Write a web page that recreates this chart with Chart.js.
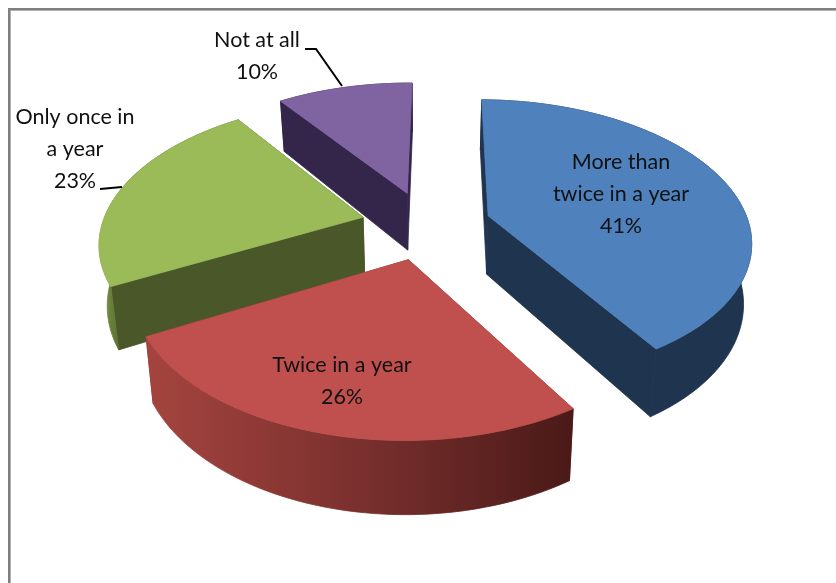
<!DOCTYPE html>
<html>
<head>
<meta charset="utf-8">
<title>Pie</title>
<script src="https://cdn.jsdelivr.net/npm/chart.js@4"></script>
<style>
  html, body { margin: 0; padding: 0; background: #fff; }
  #wrap { position: relative; width: 836px; height: 583px; overflow: hidden; }
  #frame {
    position: absolute; left: 8px; top: 8px; width: 840px; height: 600px;
    border-left: 2px solid #808080; border-top: 2px solid #808080;
    box-shadow: inset 1px 1px 0 #b0b0b0;
  }
  canvas { position: absolute; left: 0; top: 0; }
</style>
</head>
<body>
<div id="wrap">
  <div id="frame"></div>
  <canvas id="pieChart" width="836" height="583"></canvas>
</div>
<script>
    const categories = ['More than twice in a year', 'Twice in a year', 'Only once in a year', 'Not at all'];
    const percentages = [41, 26, 23, 10];
    const labelLines = [['More than', 'twice in a year'], ['Twice in a year'], ['Only once in', 'a year'], ['Not at all']];
    const topColors = ['#4f81bd', '#c0504d', '#9bbb59', '#8064a2'];
    const wallColors = ['#1f344f', '#7a302e', '#4a5729', '#33264a'];

    // Where each label sits and its leader line, if any
    const labelSpots = [
      { x: 621, y: 162 },
      { x: 342, y: 365 },
      { x: 75, y: 117, leader: [[100, 189], [122, 187]] },
      { x: 257, y: 40, leader: [[305, 49], [316, 49], [342, 86]] }
    ];

    // Tilted disc settings
    const view = { cx: 426, cy: 225, rx: 261, ry: 138, persp: 0.165, depth: 59, shrink: 0.025, explode: 0.25 };

    // Unit disc point to screen, z = 0 is the top face and z = 1 the bottom
    function project(u, v, z) {
      const den = 1 - view.persp * v;
      const x = view.rx * u / den;
      const y = (view.ry * v + view.depth * z) / den;
      return { x: view.cx + x * (1 - view.shrink * z), y: view.cy + y };
    }

    function slicePoints(arc, z) {
      const { startAngle, endAngle } = arc.getProps(['startAngle', 'endAngle'], true);
      const mid = (startAngle + endAngle) / 2;
      const ox = view.explode * Math.cos(mid);
      const oy = view.explode * Math.sin(mid);
      const rim = [];
      const steps = 60;
      for (let i = 0; i <= steps; i++) {
        const a = startAngle + (endAngle - startAngle) * i / steps;
        rim.push(project(ox + Math.cos(a), oy + Math.sin(a), z));
      }
      return { apex: project(ox, oy, z), rim };
    }

    // Hairline in the fill colour so no seam or dark fringe shows between faces
    function fillPoly(ctx, pts, fill) {
      ctx.beginPath();
      pts.forEach((p, i) => i ? ctx.lineTo(p.x, p.y) : ctx.moveTo(p.x, p.y));
      ctx.closePath();
      ctx.fillStyle = fill;
      ctx.fill();
      ctx.strokeStyle = fill;
      ctx.lineWidth = 0.8;
      ctx.stroke();
    }

    function wallFill(ctx, index) {
      if (index === 1) {
        const g = ctx.createLinearGradient(147, 0, 571, 0);
        g.addColorStop(0, '#a5443f');
        g.addColorStop(0.5, '#7a302e');
        g.addColorStop(1, '#4a1a18');
        return g;
      }
      if (index === 2) {
        const g = ctx.createLinearGradient(98, 0, 122, 0);
        g.addColorStop(0, '#7f9a48');
        g.addColorStop(1, '#566a30');
        return g;
      }
      return wallColors[index];
    }

    // Extruded slices, painted from back to front
    const tiltedPie = {
      id: 'tiltedPie',
      beforeDatasetDraw(chart) {
        const ctx = chart.ctx;
        const arcs = chart.getDatasetMeta(0).data;
        [3, 2, 0, 1].forEach(i => {
          const top = slicePoints(arcs[i], 0);
          const bottom = slicePoints(arcs[i], 1);
          ctx.save();
          fillPoly(ctx, [top.apex, top.rim[0], bottom.rim[0], bottom.apex], wallColors[i]);
          fillPoly(ctx, [top.apex, top.rim[top.rim.length - 1], bottom.rim[bottom.rim.length - 1], bottom.apex], wallColors[i]);
          fillPoly(ctx, top.rim.concat(bottom.rim.slice().reverse()), wallFill(ctx, i));
          fillPoly(ctx, [top.apex].concat(top.rim), topColors[i]);
          ctx.restore();
        });
        return false;
      },
      afterDraw(chart) {
        const ctx = chart.ctx;
        ctx.save();
        ctx.fillStyle = '#111';
        ctx.font = '21.5px Lato';
        ctx.textAlign = 'center';
        ctx.textBaseline = 'middle';
        labelSpots.forEach((spot, i) => {
          const lines = labelLines[i].concat(percentages[i] + '%');
          lines.forEach((line, n) => ctx.fillText(line, spot.x, spot.y + n * 32));
          if (spot.leader) {
            ctx.beginPath();
            spot.leader.forEach((p, n) => n ? ctx.lineTo(p[0], p[1]) : ctx.moveTo(p[0], p[1]));
            ctx.strokeStyle = '#000';
            ctx.lineWidth = 2;
            ctx.stroke();
          }
        });
        ctx.restore();
      }
    };

    const pieChart = new Chart(document.getElementById('pieChart').getContext('2d'), {
      type: 'pie',
      data: {
        labels: categories,
        datasets: [{ data: percentages, backgroundColor: topColors }]
      },
      options: {
        responsive: false,
        animation: false,
        rotation: 0.6,
        plugins: { legend: { display: false }, tooltip: { enabled: false } }
      },
      plugins: [tiltedPie]
    });
</script>
</body>
</html>
